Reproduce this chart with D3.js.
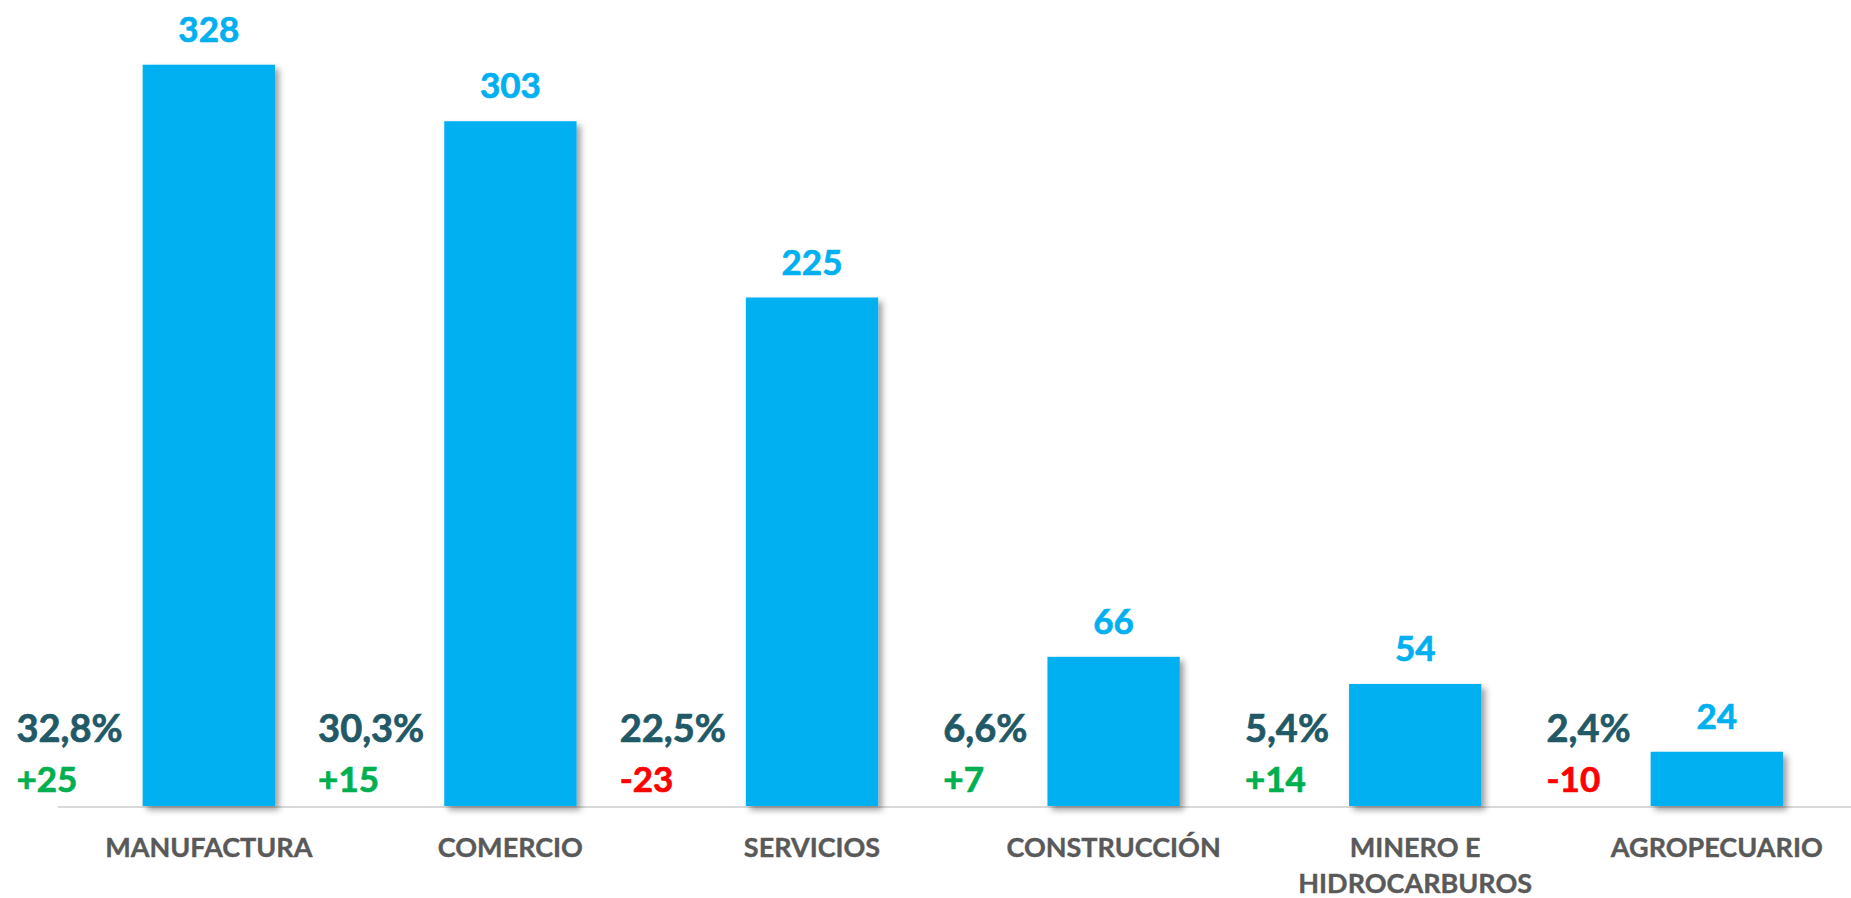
<!DOCTYPE html>
<html>
<head>
<meta charset="utf-8">
<script src="https://cdn.jsdelivr.net/npm/d3@7"></script>
<style>
  html, body { margin: 0; padding: 0; background: #ffffff; overflow: hidden; }
  svg { display: block; font-family: Lato, "Open Sans", sans-serif; }
</style>
</head>
<body>
<svg id="chart" width="1851" height="898"></svg>
<script>
// ---- data ----
const categories = ["MANUFACTURA", "COMERCIO", "SERVICIOS", "CONSTRUCCIÓN", "MINERO E\nHIDROCARBUROS", "AGROPECUARIO"];
const values = [328, 303, 225, 66, 54, 24];
const shares = ["32,8%", "30,3%", "22,5%", "6,6%", "5,4%", "2,4%"];
const changes = [25, 15, -23, 7, 14, -10];
const yMax = 350;

// ---- layout ----
const W = 1851, H = 898;
const plotLeft = 58, bandStep = 301.6;
const baseY = 806, topY = 15;

const svg = d3.select("#chart");

const defs = svg.append("defs");
const f = defs.append("filter").attr("id", "shadow")
  .attr("x", "-10%").attr("y", "-10%").attr("width", "130%").attr("height", "130%");
f.append("feDropShadow").attr("dx", 4).attr("dy", 4).attr("stdDeviation", 3)
  .attr("flood-color", "#000").attr("flood-opacity", 0.38);

const x = d3.scaleBand()
  .domain(categories)
  .range([plotLeft, plotLeft + bandStep * categories.length])
  .paddingInner(0.5614).paddingOuter(0.2807);

const y = d3.scaleLinear().domain([0, yMax]).range([baseY, topY]);

// axis line
svg.append("line")
  .attr("x1", plotLeft).attr("x2", W)
  .attr("y1", y(0) + 1).attr("y2", y(0) + 1)
  .attr("stroke", "#d9d9d9").attr("stroke-width", 2);

const data = categories.map((c, i) => ({ c, v: values[i], s: shares[i], d: changes[i] }));

// bars
svg.append("g").selectAll("rect").data(data).join("rect")
  .attr("x", d => x(d.c))
  .attr("y", d => y(d.v))
  .attr("width", x.bandwidth())
  .attr("height", d => y(0) - y(d.v))
  .attr("fill", "#00b0f0")
  .attr("filter", "url(#shadow)");

// value labels
svg.append("g").selectAll("text").data(data).join("text")
  .attr("x", d => x(d.c) + x.bandwidth() / 2)
  .attr("y", d => y(d.v) - 23)
  .attr("text-anchor", "middle")
  .attr("fill", "#00b0f0")
  .attr("stroke", "#00b0f0").attr("stroke-width", 0.7)
  .attr("font-weight", 700)
  .attr("font-size", 35)
  .text(d => d.v);

// share labels
const shareG = svg.append("g");
shareG.selectAll("text").data(data).join("text")
  .attr("x", d => x(d.c) - 20)
  .attr("y", y(0) - 64)
  .attr("text-anchor", "end")
  .attr("fill", "#215967")
  .attr("stroke", "#215967").attr("stroke-width", 0.7)
  .attr("font-weight", 700)
  .attr("font-size", 38)
  .text(d => d.s);

// change labels (left aligned with share labels)
const changeG = svg.append("g");
shareG.selectAll("text").each(function (d) {
  const bb = this.getBBox();
  const col = d.d >= 0 ? "#00b050" : "#ff0000";
  changeG.append("text")
    .attr("x", bb.x)
    .attr("y", y(0) - 14)
    .attr("text-anchor", "start")
    .attr("fill", col)
    .attr("stroke", col).attr("stroke-width", 0.7)
    .attr("font-weight", 700)
    .attr("font-size", 35)
    .text((d.d >= 0 ? "+" : "-") + Math.abs(d.d));
});

// category labels
const catG = svg.append("g");
data.forEach(d => {
  const t = catG.append("text")
    .attr("x", x(d.c) + x.bandwidth() / 2)
    .attr("y", 857)
    .attr("text-anchor", "middle")
    .attr("fill", "#595959")
    .attr("stroke", "#595959").attr("stroke-width", 0.4)
    .attr("font-weight", 700)
    .attr("font-size", 27);
  d.c.split("\n").forEach((line, k) => {
    t.append("tspan")
      .attr("x", x(d.c) + x.bandwidth() / 2)
      .attr("dy", k === 0 ? 0 : 36)
      .text(line);
  });
});
</script>
</body>
</html>
